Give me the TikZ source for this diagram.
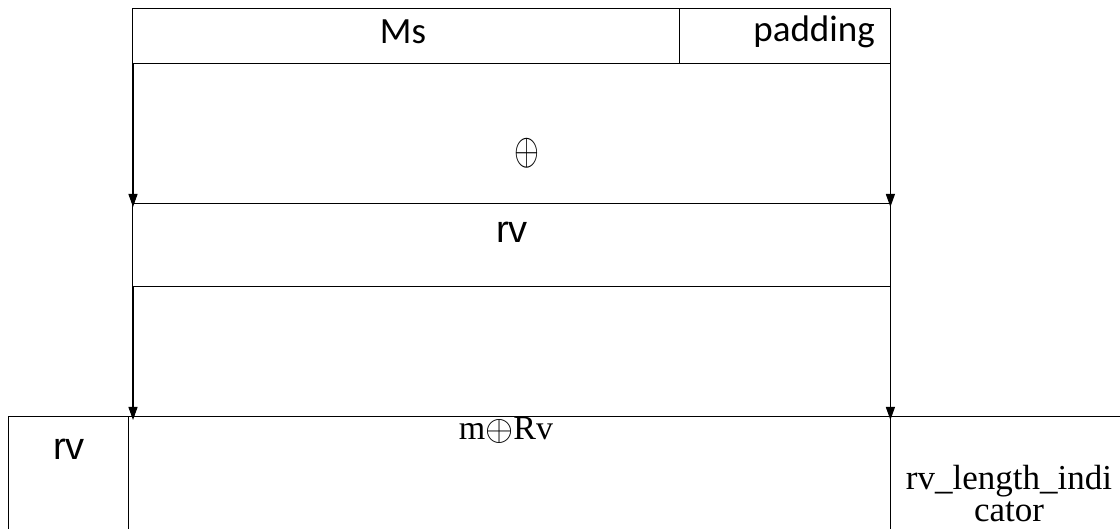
\documentclass[tikz,border=0pt]{standalone}
\usepackage{fontspec}
\setmainfont{Liberation Serif}
\newfontfamily\calfont{Carlito}
\newfontfamily\arialfont{Liberation Sans}
\usetikzlibrary{arrows.meta,calc}

\begin{document}
\begin{tikzpicture}[x=1pt,y=-1pt,
  field/.style={draw, line width=1.4pt, rectangle, inner sep=0pt, anchor=north west},
  lbl/.style={inner sep=0pt, anchor=base},
  flow/.style={line width=1.1pt, -{Triangle[width=9pt,length=13pt]}, shorten >=-4pt},
  calibri/.style={font=\calfont\fontsize{37}{40}\selectfont},
  arial/.style={font=\arialfont\fontsize{38}{40}\selectfont},
  times/.style={font=\fontsize{34}{26}\selectfont},
  timesnote/.style={font=\fontsize{35}{32}\selectfont}]
  \useasboundingbox (0,0) rectangle (1120,529);
  \clip (0,0) rectangle (1120,529);

  % top row: message and padding
  \node[field, minimum width=547pt, minimum height=55pt] (ms) at (132,8) {};
  \node[field, minimum width=211pt, minimum height=55pt] (pad) at (679,8) {};
  \node[lbl, calibri] (mstxt) at (403,44) {Ms};
  \node[lbl, calibri, anchor=base east] (padtxt) at (875,42) {padding};

  % xor symbol
  \node[inner sep=0pt] (xor) at (527,153) {\scalebox{3.2}[4.5]{$\oplus$}};

  % random value block
  \node[field, minimum width=758pt, minimum height=83pt] (rvbox) at (132,203) {};
  \node[lbl, arial] (rvtxt) at (512,243) {rv};

  % output frame
  \node[field, minimum width=120pt, minimum height=140pt] (rvcell) at (8,416) {};
  \node[field, minimum width=762pt, minimum height=140pt] (mcell) at (128,416) {};
  \node[field, minimum width=250pt, minimum height=140pt] (lencell) at (890,416) {};
  \node[lbl, arial] (rvcelltxt) at (69,459) {rv};
  \node[lbl, times] (mtxt) at (506,439) {m\raisebox{-1pt}{\scalebox{1.45}{$\oplus$}}Rv};
  \node[inner sep=0pt, timesnote, align=center, anchor=north] (lentxt) at (1009,465)
    {rv\_length\_indi\\cator};

  % arrow end points
  \coordinate (a1) at ($(ms.south west)+(1,0)$);
  \coordinate (a2) at ($(pad.south east)+(-1,0)$);
  \coordinate (b1) at ($(rvbox.south west)+(1,0)$);
  \coordinate (b2) at ($(rvbox.south east)+(-1,0)$);
  \coordinate (c1) at (b1 |- mcell.north);
  \coordinate (c2) at (b2 |- mcell.north);

  % arrows
  \draw[flow] (a1) -- (a1 |- rvbox.north);
  \draw[flow] (a2) -- (a2 |- rvbox.north);
  \draw[flow] (b1) -- (c1);
  \draw[flow] (b2) -- (c2);
\end{tikzpicture}
\end{document}
